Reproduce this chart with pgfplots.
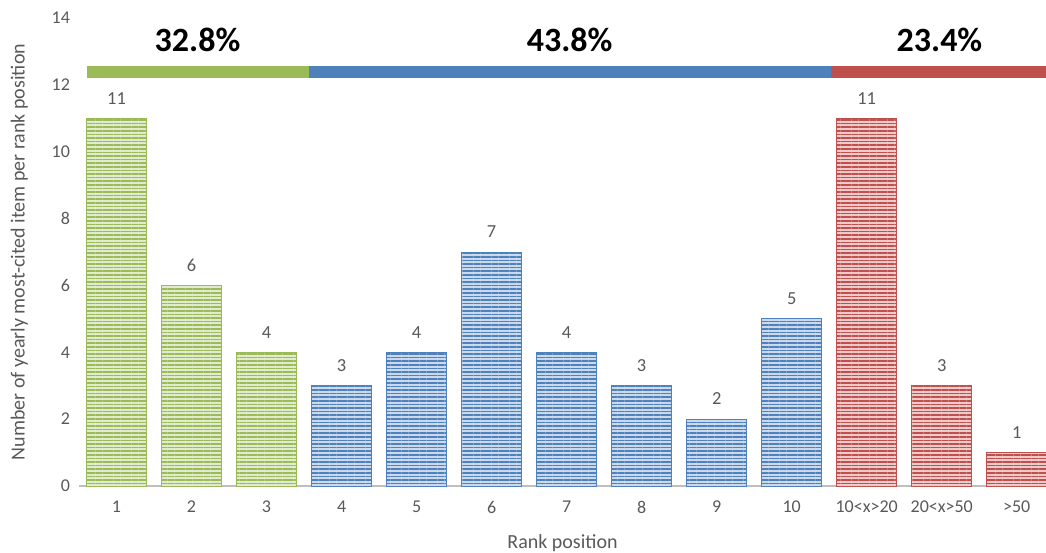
\documentclass[border=0pt]{standalone}
\usepackage{fontspec}
\setmainfont{Carlito}
\usepackage{pgfplots}
\pgfplotsset{compat=1.18}
\usetikzlibrary{patterns.meta}
\definecolor{cg}{HTML}{9BBB59}
\definecolor{cb}{HTML}{4F81BD}
\definecolor{cr}{HTML}{C0504D}
\definecolor{txt}{HTML}{595959}
\definecolor{axl}{HTML}{BFBFBF}
\begin{document}
\begin{tikzpicture}
\begin{axis}[
  scale only axis,
  width=483.5pt, height=234pt,
  xmin=-0.5, xmax=12.39, ymin=0, ymax=14,
  ytick={0,2,...,14},
  xtick={0,...,12},
  xticklabels={1,2,3,4,5,6,7,8,9,10,{10<x>20},{20<x>50},{>50}},
  axis lines*=left,
  y axis line style={draw=none},
  x axis line style={draw=axl, line width=1.2pt},
  major tick length=0pt,
  tick label style={font=\fontsize{9}{10}\selectfont, text=txt},
  /pgf/number format/assume math mode=true,
  yticklabel style={xshift=-1pt},
  xticklabel style={yshift=-4pt},
  xlabel={Rank position},
  ylabel={Number of yearly most-cited item per rank position},
  label style={font=\fontsize{10}{11}\selectfont, text=txt},
  xlabel style={yshift=-3.5pt},
  ylabel style={yshift=5pt},
  ybar, bar width=0.8, bar shift=0pt,
  nodes near coords,
  every node near coord/.append style={font=\fontsize{9.2}{10}\selectfont, text=txt, yshift=3.5pt},
  clip=true,
]
\addplot[draw=cg, line width=0.5pt, fill=cg!30!white, postaction={pattern={Lines[angle=0,distance=1.8pt,line width=0.8pt]}, pattern color=cg}]
  coordinates {(0,11) (1,6) (2,4)};
\addplot[draw=cb, line width=0.5pt, fill=cb!30!white, postaction={pattern={Lines[angle=0,distance=1.8pt,line width=0.8pt]}, pattern color=cb}]
  coordinates {(3,3) (4,4) (5,7) (6,4) (7,3) (8,2) (9,5)};
\addplot[draw=cr, line width=0.5pt, fill=cr!30!white, postaction={pattern={Lines[angle=0,distance=1.8pt,line width=0.8pt]}, pattern color=cr}]
  coordinates {(10,11) (11,3) (12,1)};
\addplot[sharp plot, no marks, draw=cg, line width=6pt, nodes near coords={}] coordinates {(-0.4,12.38) (2.56,12.38)};
\addplot[sharp plot, no marks, draw=cb, line width=6pt, nodes near coords={}] coordinates {(2.56,12.38) (9.53,12.38)};
\addplot[sharp plot, no marks, draw=cr, line width=6pt, nodes near coords={}] coordinates {(9.53,12.38) (12.6,12.38)};
\node[font=\fontsize{17}{19}\bfseries\selectfont, text=black] at (axis cs:1.08,13.35) {32.8\%};
\node[font=\fontsize{17}{19}\bfseries\selectfont, text=black] at (axis cs:6.04,13.35) {43.8\%};
\node[font=\fontsize{17}{19}\bfseries\selectfont, text=black] at (axis cs:10.97,13.35) {23.4\%};
\coordinate (bl) at (rel axis cs:0,0);
\coordinate (tr) at (rel axis cs:1,1);
\end{axis}
\pgfresetboundingbox
\path ([shift={(-39.5pt,-33pt)}]bl) rectangle ([shift={(0pt,9pt)}]tr);
\end{tikzpicture}
\end{document}
